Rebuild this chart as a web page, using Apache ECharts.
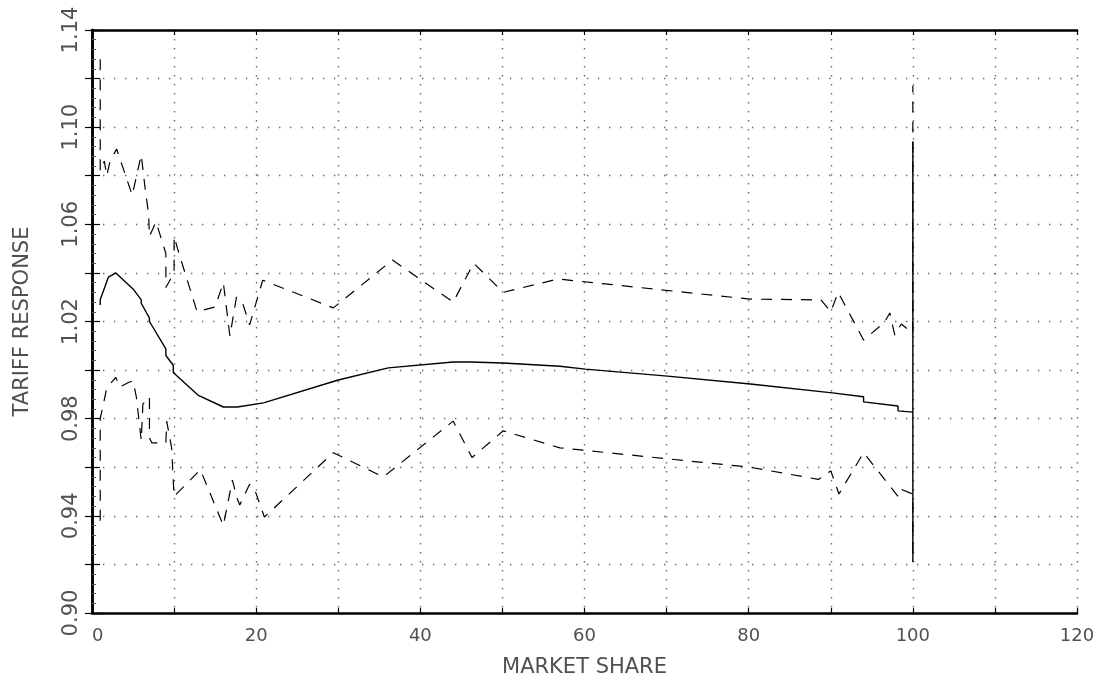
<!DOCTYPE html>
<html>
<head>
<meta charset="utf-8">
<script src="https://cdn.jsdelivr.net/npm/echarts@6/dist/echarts.min.js"></script>
<style>
  html, body { margin: 0; padding: 0; background: #fff; }
  #chart { width: 1106px; height: 685px; }
</style>
</head>
<body>
<div id="chart"></div>
<script>
// Tariff response versus market share: central estimate with upper and lower bands
const midX = [1.0, 1.0, 2.0, 2.9, 5.0, 6.0, 6.0, 7.0, 7.0, 9.0, 9.0, 9.9, 9.9, 12.9, 16.0, 17.7, 20.9, 30.0, 36.1, 44.0, 46.1, 50.1, 57.0, 60.1, 70.1, 80.2, 90.2, 94.0, 94.0, 98.2, 98.2, 100, 100, 100];
const midY = [1.0268, 1.0290, 1.0383, 1.0400, 1.0334, 1.0289, 1.0275, 1.0214, 1.0200, 1.0087, 1.0060, 1.0020, 0.9990, 0.9897, 0.9848, 0.9848, 0.9865, 0.9959, 1.0009, 1.0033, 1.0033, 1.0029, 1.0016, 1.0004, 0.9975, 0.9943, 0.9906, 0.9890, 0.9869, 0.9852, 0.9832, 0.9827, 1.0940, 0.9210];

const upX = [1.0, 1.0, 1.5, 1.8, 2.2, 3.0, 4.9, 6.0, 6.5, 6.9, 7.0, 7.8, 9.0, 9.0, 10.0, 10.0, 10.6, 12.8, 15.0, 16.0, 16.8, 17.6, 18.4, 19.2, 20.8, 29.4, 36.6, 44.0, 46.5, 50.1, 56.8, 80.2, 88.8, 90.0, 90.9, 94.0, 96.5, 97.2, 97.8, 98.6, 100, 100];
const upY = [1.128, 1.082, 1.086, 1.080, 1.086, 1.091, 1.072, 1.0886, 1.074, 1.064, 1.055, 1.061, 1.048, 1.034, 1.040, 1.055, 1.048, 1.024, 1.026, 1.036, 1.014, 1.030, 1.027, 1.0186, 1.037, 1.0256, 1.0453, 1.028, 1.044, 1.032, 1.0375, 1.0292, 1.0289, 1.024, 1.032, 1.0124, 1.0195, 1.0235, 1.0144, 1.019, 1.015, 1.117];

const loX = [1.0, 1.0, 1.8, 2.9, 3.4, 4.5, 5.0, 5.4, 6.0, 6.2, 7.0, 7.0, 7.3, 9.0, 9.1, 9.7, 10.0, 13.2, 16.0, 17.1, 17.7, 18.0, 19.2, 19.8, 21.0, 29.4, 35.5, 44.0, 46.3, 50.1, 57.0, 80.2, 88.5, 90.0, 91.0, 94.0, 98.2, 98.5, 100, 100];
const loY = [0.938, 0.980, 0.9926, 0.997, 0.993, 0.995, 0.9955, 0.989, 0.971, 0.986, 0.989, 0.972, 0.970, 0.970, 0.979, 0.968, 0.948, 0.959, 0.936, 0.9547, 0.947, 0.9445, 0.953, 0.951, 0.9395, 0.966, 0.956, 0.979, 0.964, 0.975, 0.968, 0.960, 0.955, 0.9585, 0.949, 0.966, 0.948, 0.951, 0.949, 0.921];

const xTickLabels = [0, 20, 40, 60, 80, 100, 120];
const yTickLabels = ['0.90', '0.94', '0.98', '1.02', '1.06', '1.10', '1.14'];

const zip = (xs, ys) => xs.map((x, i) => [x, ys[i]]);

const textColor = '#505050';
const fontFamily = 'DejaVu Sans';
const gridDot = { color: '#6a6a6a', width: 1.4 };

const chart = echarts.init(document.getElementById('chart'));
chart.setOption({
  backgroundColor: '#ffffff',
  animation: false,
  grid: { left: 92, right: 29, top: 30, bottom: 72, containLabel: false },
  xAxis: [
    {
      type: 'value', min: 0, max: 120, interval: 10,
      name: 'MARKET SHARE', nameLocation: 'middle', nameGap: 44,
      nameTextStyle: { color: textColor, fontFamily, fontSize: 21 },
      axisLine: { show: true, lineStyle: { color: '#000', width: 2.5 } },
      axisTick: { show: true, inside: true, length: 5, lineStyle: { color: '#000', width: 1.2 } },
      axisLabel: {
        color: textColor, fontFamily, fontSize: 18, margin: 14,
        alignMinLabel: 'left',
        formatter: v => xTickLabels.includes(Math.round(v)) ? String(Math.round(v)) : ''
      },
      splitLine: { show: true, lineStyle: Object.assign({ type: [1.4, 7.6] }, gridDot) }
    },
    {
      type: 'value', position: 'top', min: 0, max: 120, interval: 10,
      axisLine: { show: true, lineStyle: { color: '#000', width: 2.5 } },
      axisTick: { show: true, inside: true, length: 5, lineStyle: { color: '#000', width: 1.2 } },
      axisLabel: { show: false },
      splitLine: { show: false }
    }
  ],
  yAxis: [
    {
      type: 'value', min: 0.90, max: 1.14, interval: 0.02,
      name: 'TARIFF RESPONSE', nameLocation: 'middle', nameGap: 59, nameRotate: 90,
      nameTextStyle: { color: textColor, fontFamily, fontSize: 21 },
      axisLine: { show: true, lineStyle: { color: '#000', width: 2.5 } },
      axisTick: { show: true, inside: true, length: 8, lineStyle: { color: '#000', width: 1.2 } },
      minorTick: { show: true, splitNumber: 5, length: 4, lineStyle: { color: '#555', width: 1 } },
      axisLabel: {
        color: textColor, fontFamily, fontSize: 21, margin: 10, rotate: 90,
        formatter: v => {
          const s = v.toFixed(2);
          return yTickLabels.includes(s) ? s : '';
        }
      },
      splitLine: { show: true, lineStyle: Object.assign({ type: [1.4, 9.6] }, gridDot) }
    },
    {
      type: 'value', position: 'right', min: 0.90, max: 1.14, interval: 0.02,
      axisLine: { show: true, lineStyle: { color: '#000', width: 2.5 } },
      axisTick: { show: true, inside: true, length: 7, lineStyle: { color: '#000', width: 1.2 } },
      axisLabel: { show: false },
      splitLine: { show: false }
    }
  ],
  series: [
    {
      name: 'upper', type: 'line', showSymbol: false, xAxisIndex: 0, yAxisIndex: 0,
      data: zip(upX, upY),
      lineStyle: { color: '#000', width: 1.2, type: [11, 9] }
    },
    {
      name: 'lower', type: 'line', showSymbol: false, xAxisIndex: 0, yAxisIndex: 0,
      data: zip(loX, loY),
      lineStyle: { color: '#000', width: 1.2, type: [11, 9] }
    },
    {
      name: 'central', type: 'line', showSymbol: false, xAxisIndex: 0, yAxisIndex: 0,
      data: zip(midX, midY),
      lineStyle: { color: '#000', width: 1.4, type: 'solid' }
    }
  ]
});
</script>
</body>
</html>
